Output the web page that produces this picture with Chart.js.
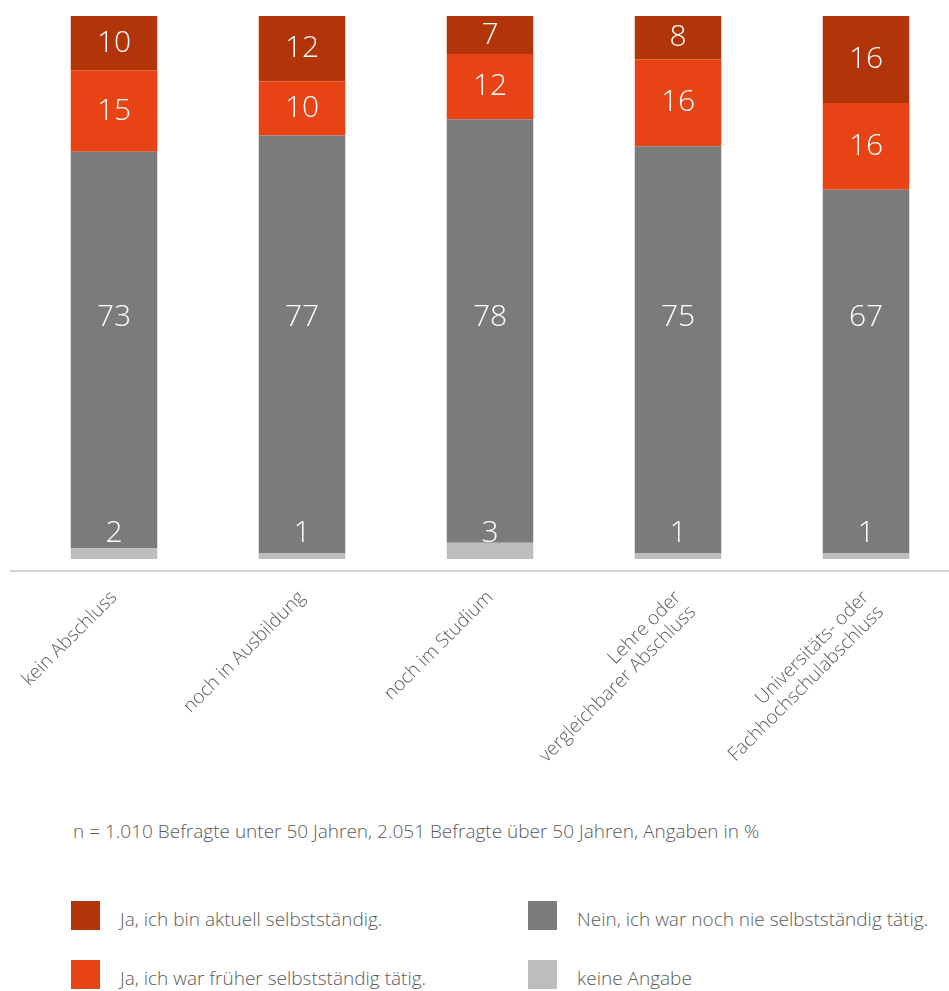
<!DOCTYPE html>
<html lang="de">
<head>
<meta charset="utf-8">
<title>Selbstständigkeit nach Bildungsabschluss</title>
<script src="https://cdn.jsdelivr.net/npm/chart.js@4/dist/chart.umd.min.js"></script>
<style>
  html, body { margin: 0; padding: 0; background: #fff; overflow: hidden; }
  body { width: 949px; height: 991px; position: relative; font-family: "Open Sans", sans-serif; font-weight: 300; color: #5a5a5a; }
  #chartBox { position: absolute; left: 0; top: 0; width: 960px; height: 791px; }
  #note { position: absolute; left: 73px; top: 818px; font-size: 19px; white-space: nowrap; }
  .lg { position: absolute; font-size: 19px; white-space: nowrap; }
  .lg span.box { position: absolute; left: 0; top: 0; width: 29px; height: 29px; }
  .lg span.txt { position: absolute; left: 49px; top: 5px; }
</style>
</head>
<body>
<div id="chartBox"><canvas id="selbststaendigChart"></canvas></div>
<div id="note">n = 1.010 Befragte unter 50 Jahren, 2.051 Befragte über 50 Jahren, Angaben in %</div>
<div id="legend"></div>

<script>
// categories (education level)
var categories = [
  "kein Abschluss",
  "noch in Ausbildung",
  "noch im Studium",
  ["Lehre oder", "vergleichbarer Abschluss"],
  ["Universitäts- oder", "Fachhochschulabschluss"]
];

// shares in %, stacked bottom to top
var keineAngabe = [2, 1, 3, 1, 1];
var nieSelbststaendig = [73, 77, 78, 75, 67];
var frueherSelbststaendig = [15, 10, 12, 16, 16];
var aktuellSelbststaendig = [10, 12, 7, 8, 16];

var seriesNames = [
  "keine Angabe",
  "Nein, ich war noch nie selbstständig tätig.",
  "Ja, ich war früher selbstständig tätig.",
  "Ja, ich bin aktuell selbstständig."
];
var seriesColors = ["#bdbdbd", "#7b7b7b", "#e84315", "#b2350a"];

// white value labels inside the bars
var valueLabels = {
  id: 'valueLabels',
  afterDatasetsDraw: function(chart) {
    var ctx = chart.ctx;
    var yScale = chart.scales.y;
    ctx.save();
    ctx.fillStyle = '#ffffff';
    ctx.font = '300 30px "Open Sans", sans-serif';
    ctx.textAlign = 'center';
    ctx.textBaseline = 'middle';
    chart.data.datasets.forEach(function(ds, di) {
      chart.getDatasetMeta(di).data.forEach(function(bar, i) {
        var y;
        if (di === 0) {
          // small segment: label sits just above the bar base
          y = yScale.getPixelForValue(0) - 26;
        } else if (di === 1) {
          y = yScale.getPixelForValue(44.5);
        } else {
          y = (bar.y + bar.base) / 2;
        }
        ctx.fillText(String(ds.data[i]), bar.x, y);
      });
    });
    ctx.restore();
  }
};

// light baseline under the bars
var baseLine = {
  id: 'baseLine',
  beforeDatasetsDraw: function(chart) {
    var ctx = chart.ctx;
    var y = chart.chartArea.bottom;
    ctx.save();
    ctx.strokeStyle = '#d4d4d4';
    ctx.lineWidth = 2;
    ctx.beginPath();
    ctx.moveTo(10, y);
    ctx.lineTo(949, y);
    ctx.stroke();
    ctx.restore();
  }
};

var dataSeries = [keineAngabe, nieSelbststaendig, frueherSelbststaendig, aktuellSelbststaendig];

var config = {
  type: 'bar',
  data: {
    labels: categories,
    datasets: dataSeries.map(function(d, i) {
      return {
        label: seriesNames[i],
        data: d,
        backgroundColor: seriesColors[i],
        borderWidth: 0,
        categoryPercentage: 1,
        barPercentage: 0.46
      };
    })
  },
  options: {
    responsive: true,
    maintainAspectRatio: false,
    animation: false,
    layout: { padding: { left: 20, right: 0, top: 16, bottom: 0 } },
    plugins: {
      legend: { display: false },
      tooltip: { enabled: false }
    },
    scales: {
      x: {
        stacked: true,
        grid: { display: false, drawTicks: false },
        border: { display: false },
        ticks: {
          autoSkip: false,
          minRotation: 45,
          maxRotation: 45,
          padding: 16,
          color: '#5a5a5a',
          font: { family: '"Open Sans", sans-serif', size: 19, weight: 300, lineHeight: 1.1 }
        },
        afterFit: function(scale) { scale.height = 220; }
      },
      y: {
        stacked: true,
        display: false,
        min: -2.2,
        max: 100
      }
    }
  },
  plugins: [baseLine, valueLabels]
};

new Chart(document.getElementById('selbststaendigChart').getContext('2d'), config);

// legend, two columns: top row dark red / dark gray, bottom row orange / light gray
var legendSlots = [
  { series: 3, left: 71, top: 901 },
  { series: 2, left: 71, top: 960 },
  { series: 1, left: 528, top: 901 },
  { series: 0, left: 528, top: 960 }
];
var legendEl = document.getElementById('legend');
legendSlots.forEach(function(s) {
  var item = document.createElement('div');
  item.className = 'lg';
  item.style.left = s.left + 'px';
  item.style.top = s.top + 'px';
  item.innerHTML = '<span class="box" style="background:' + seriesColors[s.series] + '"></span>' +
    '<span class="txt">' + seriesNames[s.series] + '</span>';
  legendEl.appendChild(item);
});
</script>
</body>
</html>
